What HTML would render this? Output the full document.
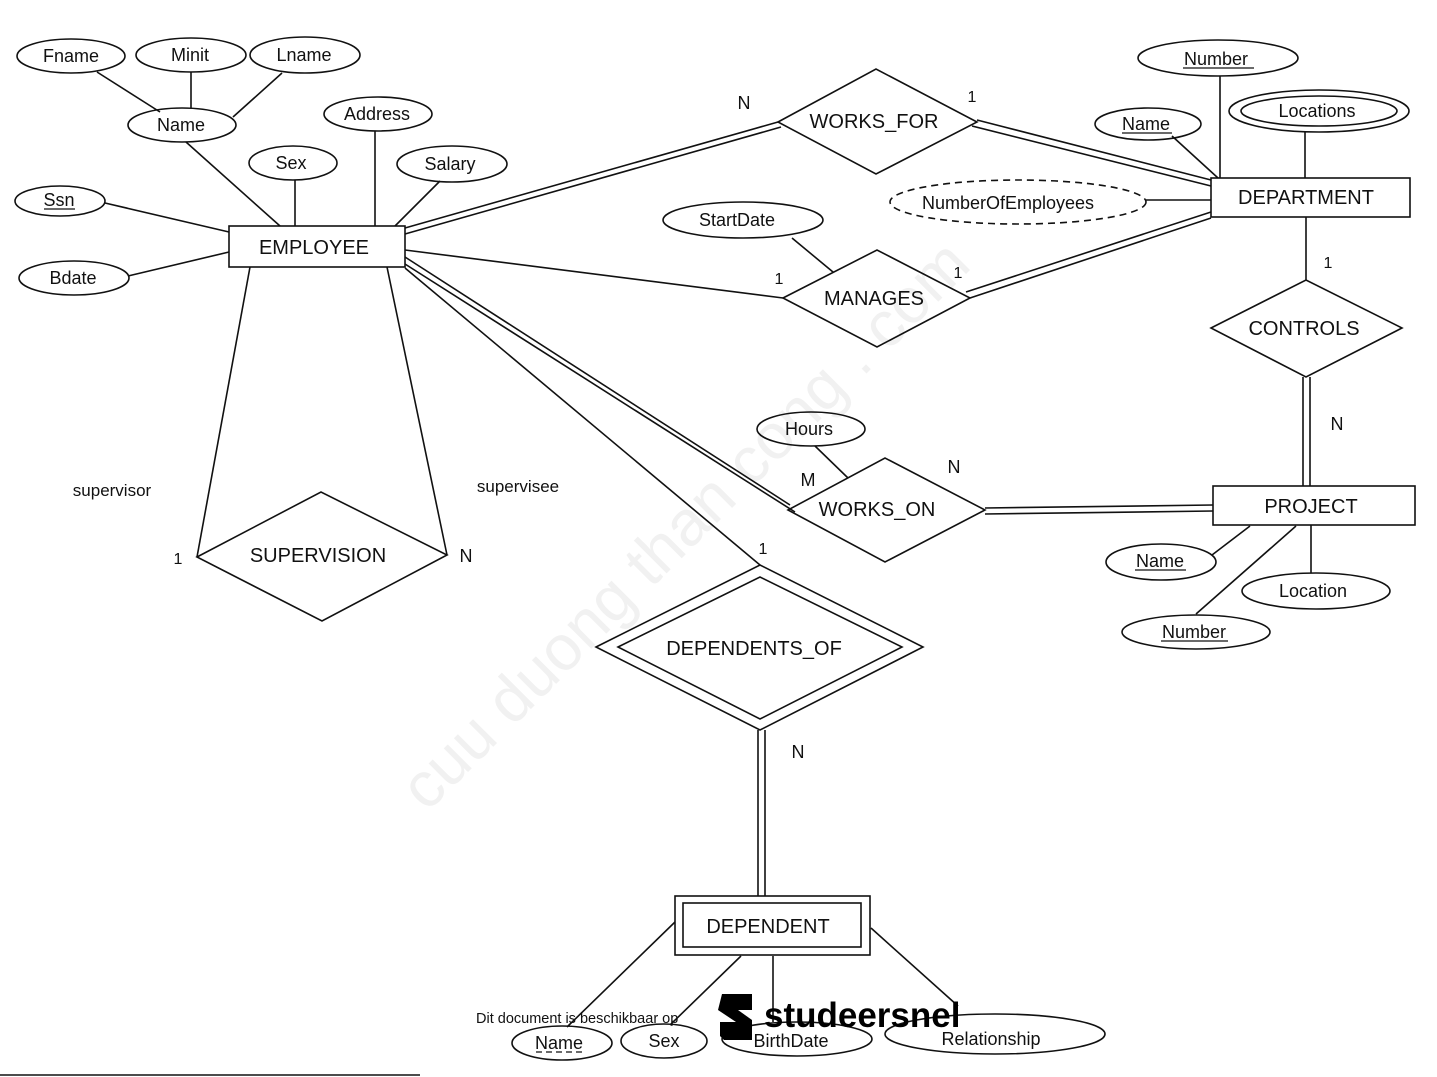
<!DOCTYPE html>
<html><head><meta charset="utf-8"><style>
html,body{margin:0;padding:0;background:#fff;}
svg{display:block;}
text{font-family:"Liberation Sans",Arial,sans-serif;fill:#111;}
</style></head><body>
<svg width="1437" height="1077" viewBox="0 0 1437 1077" xmlns="http://www.w3.org/2000/svg">
<rect width="1437" height="1077" fill="#fff"/>
<text x="700" y="540" font-family="Liberation Serif" font-size="64" style="fill:#f1f1f1" transform="rotate(-45 700 540)" text-anchor="middle">cuu duong than cong . com</text>
<g stroke="#111" stroke-width="1.6" fill="none">
<line x1="97" y1="72" x2="160" y2="112"/><line x1="191" y1="72" x2="191" y2="108"/><line x1="282" y1="73" x2="233" y2="117"/>
<line x1="186" y1="142" x2="280" y2="226"/><line x1="295" y1="180" x2="295" y2="226"/><line x1="375" y1="131" x2="375" y2="226"/>
<line x1="440" y1="181" x2="395" y2="226"/><line x1="105" y1="203" x2="229" y2="232"/><line x1="128" y1="276" x2="229" y2="252"/>
<ellipse cx="71" cy="56" rx="54" ry="17"/><ellipse cx="191" cy="55" rx="55" ry="17"/><ellipse cx="305" cy="55" rx="55" ry="18"/>
<ellipse cx="182" cy="125" rx="54" ry="17"/><ellipse cx="378" cy="114" rx="54" ry="17"/><ellipse cx="293" cy="163" rx="44" ry="17"/>
<ellipse cx="452" cy="164" rx="55" ry="18"/><ellipse cx="60" cy="201" rx="45" ry="15"/><ellipse cx="74" cy="278" rx="55" ry="17"/>
<rect x="229" y="226" width="176" height="41"/>
<line x1="405" y1="228" x2="778" y2="122"/><line x1="405" y1="234" x2="781" y2="127"/>
<line x1="977" y1="120" x2="1211" y2="180"/><line x1="972" y1="126" x2="1211" y2="186"/>
<polygon points="778,122 876,69 977,122 876,174"/>
<line x1="1220" y1="76" x2="1220" y2="178"/><line x1="1172" y1="136" x2="1218" y2="178"/><line x1="1305" y1="132" x2="1305" y2="178"/>
<line x1="1146" y1="200" x2="1211" y2="200"/>
<ellipse cx="1218" cy="58" rx="80" ry="18"/><ellipse cx="1148" cy="124" rx="53" ry="16"/>
<ellipse cx="1319" cy="111" rx="90" ry="21"/><ellipse cx="1319" cy="111" rx="78" ry="15"/>
<ellipse cx="1018" cy="202" rx="128" ry="22" stroke-dasharray="7,5"/>
<rect x="1211" y="178" width="199" height="39"/>
<line x1="792" y1="238" x2="833" y2="272"/><ellipse cx="743" cy="220" rx="80" ry="18"/>
<line x1="405" y1="250" x2="783" y2="298"/>
<line x1="1211" y1="212" x2="966" y2="292"/><line x1="1211" y1="218" x2="970" y2="298"/>
<polygon points="783,298 877,250 970,298 877,347"/>
<line x1="1306" y1="217" x2="1306" y2="280"/>
<polygon points="1211,328 1306,280 1402,328 1306,377"/>
<line x1="1303" y1="377" x2="1303" y2="486"/><line x1="1310" y1="377" x2="1310" y2="486"/>
<line x1="1212" y1="555" x2="1250" y2="526"/><line x1="1311" y1="525" x2="1311" y2="573"/><line x1="1196" y1="614" x2="1296" y2="526"/>
<rect x="1213" y="486" width="202" height="39"/>
<ellipse cx="1161" cy="562" rx="55" ry="18"/><ellipse cx="1316" cy="591" rx="74" ry="18"/><ellipse cx="1196" cy="632" rx="74" ry="17"/>
<line x1="815" y1="446" x2="848" y2="478"/><ellipse cx="811" cy="429" rx="54" ry="17"/>
<line x1="405" y1="257" x2="790" y2="505"/><line x1="405" y1="264" x2="795" y2="512"/>
<line x1="985" y1="508" x2="1213" y2="505"/><line x1="985" y1="514" x2="1213" y2="511"/>
<polygon points="788,510 885,458 985,510 885,562"/>
<line x1="250" y1="267" x2="197" y2="557"/><line x1="387" y1="267" x2="447" y2="555"/>
<polygon points="197,557 321,492 447,555 322,621"/>
<line x1="405" y1="268" x2="760" y2="565"/>
<polygon points="596,647 760,565 923,647 760,730"/>
<polygon points="618,647 760,577 902,647 760,719"/>
<line x1="758" y1="730" x2="758" y2="896"/><line x1="765" y1="730" x2="765" y2="896"/>
<rect x="675" y="896" width="195" height="59"/><rect x="683" y="903" width="178" height="44"/>
<line x1="675" y1="922" x2="567" y2="1027"/><line x1="741" y1="956" x2="670" y2="1025"/>
<line x1="773" y1="956" x2="773" y2="1022"/><line x1="871" y1="928" x2="958" y2="1006"/>
<ellipse cx="562" cy="1043" rx="50" ry="17"/><ellipse cx="664" cy="1041" rx="43" ry="17"/>
<ellipse cx="797" cy="1039" rx="75" ry="17"/><ellipse cx="995" cy="1034" rx="110" ry="20"/>
<line x1="0" y1="1075" x2="420" y2="1075"/>
</g>
<g font-size="18" text-anchor="middle">
<text x="71" y="62">Fname</text><text x="190" y="61">Minit</text><text x="304" y="61">Lname</text>
<text x="181" y="131">Name</text><text x="377" y="120">Address</text><text x="291" y="169">Sex</text>
<text x="450" y="170">Salary</text><text x="59" y="206">Ssn</text><text x="73" y="284">Bdate</text>
<text x="314" y="254" font-size="20">EMPLOYEE</text>
<text x="874" y="128" font-size="20">WORKS_FOR</text>
<text x="1216" y="65">Number</text><text x="1146" y="130">Name</text><text x="1317" y="117">Locations</text>
<text x="1008" y="209">NumberOfEmployees</text>
<text x="1306" y="204" font-size="20">DEPARTMENT</text>
<text x="737" y="226">StartDate</text>
<text x="874" y="305" font-size="20">MANAGES</text>
<text x="1304" y="335" font-size="20">CONTROLS</text>
<text x="1311" y="513" font-size="20">PROJECT</text>
<text x="1160" y="567">Name</text><text x="1313" y="597">Location</text><text x="1194" y="638">Number</text>
<text x="809" y="435">Hours</text>
<text x="877" y="516" font-size="20">WORKS_ON</text>
<text x="318" y="562" font-size="20">SUPERVISION</text>
<text x="754" y="655" font-size="20">DEPENDENTS_OF</text>
<text x="768" y="933" font-size="20">DEPENDENT</text>
<text x="559" y="1049">Name</text><text x="664" y="1047">Sex</text><text x="791" y="1047">BirthDate</text><text x="991" y="1045">Relationship</text>
<text x="744" y="109">N</text><text x="972" y="102" font-size="16">1</text><text x="779" y="284" font-size="16">1</text>
<text x="958" y="278" font-size="16">1</text><text x="1328" y="268" font-size="16">1</text><text x="1337" y="430">N</text>
<text x="808" y="486">M</text><text x="954" y="473">N</text><text x="763" y="554" font-size="16">1</text>
<text x="798" y="758">N</text><text x="112" y="496" font-size="17">supervisor</text><text x="518" y="492" font-size="17">supervisee</text>
<text x="178" y="564" font-size="16">1</text><text x="466" y="562">N</text>
</g>
<g stroke="#111" stroke-width="1.3">
<line x1="1183" y1="68" x2="1254" y2="68"/><line x1="1122" y1="133" x2="1172" y2="133"/>
<line x1="1135" y1="570" x2="1186" y2="570"/><line x1="1161" y1="641" x2="1228" y2="641"/>
<line x1="44" y1="209" x2="75" y2="209"/>
<line x1="536" y1="1052" x2="584" y2="1052" stroke-dasharray="6,4"/>
</g>
<text x="476" y="1023" font-size="14.5">Dit document is beschikbaar op</text>
<path d="M722 994 h30 v16 h-14 l14 10 v20 h-28 l-4 -4 v-14 h16 l-18 -12 z" fill="#000"/>
<text x="764" y="1027" font-size="35" font-weight="bold" style="fill:#000">studeersnel</text>
</svg>
</body></html>
